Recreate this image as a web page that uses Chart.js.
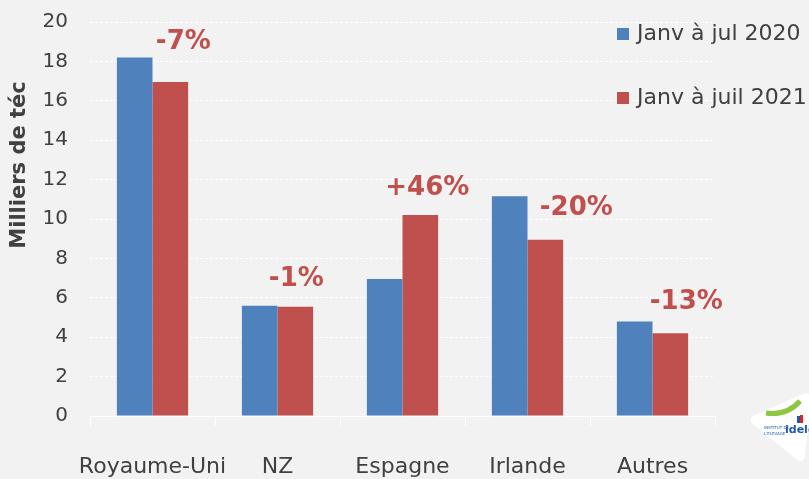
<!DOCTYPE html>
<html>
<head>
<meta charset="utf-8">
<script src="https://cdn.jsdelivr.net/npm/chart.js@4/dist/chart.umd.min.js"></script>
<style>
html,body{margin:0;padding:0;background:#F2F2F2;}
#wrap{width:809px;height:479px;position:relative;}
</style>
</head>
<body>
<div id="wrap"><canvas id="c"></canvas></div>
<script>
const categories = ["Royaume-Uni", "NZ", "Espagne", "Irlande", "Autres"];
const series2020 = [18.2, 5.6, 6.95, 11.15, 4.8];
const series2021 = [16.95, 5.55, 10.2, 8.95, 4.2];
const changeLabels = ["-7%", "-1%", "+46%", "-20%", "-13%"];
const seriesNames = ["Janv à jul 2020", "Janv à juil 2021"];
const yTicks = [0, 2, 4, 6, 8, 10, 12, 14, 16, 18, 20];
const yTitle = "Milliers de téc";

const BLUE = "#4F81BD", RED = "#C0504D", TXT = "#404040";
const FONT = "'DejaVu Sans', sans-serif";

// pixel offsets of the change labels relative to the top of the 2021 bar
const labelOffsets = [[13, -40], [1, -27], [7, -27], [31, -31], [16, -31]];

const overlay = {
  id: "overlay",
  afterDatasetsDraw(chart) {
    const ctx = chart.ctx;
    const meta = chart.getDatasetMeta(1);
    ctx.save();
    ctx.fillStyle = RED;
    ctx.font = "bold 26px " + FONT;
    ctx.textAlign = "center";
    ctx.textBaseline = "middle";
    meta.data.forEach((bar, i) => {
      const o = labelOffsets[i];
      ctx.fillText(changeLabels[i], bar.x + o[0], bar.y + o[1]);
    });
    // y title
    ctx.translate(20, 165);
    ctx.rotate(-Math.PI / 2);
    ctx.fillStyle = TXT;
    ctx.font = "bold 21px " + FONT;
    ctx.fillText(yTitle, 0, 0);
    ctx.restore();
    // legend
    ctx.save();
    ctx.font = "22px " + FONT;
    ctx.textBaseline = "middle";
    ctx.textAlign = "left";
    const legendY = [34, 98];
    chart.data.datasets.forEach((ds, i) => {
      ctx.fillStyle = ds.backgroundColor;
      ctx.fillRect(617, legendY[i] - 6, 12, 12);
      ctx.fillStyle = TXT;
      ctx.fillText(ds.label, 637, legendY[i]);
    });
    ctx.restore();
    // logo
    ctx.save();
    ctx.fillStyle = "#FFFFFF";
    ctx.lineJoin = "round";
    ctx.strokeStyle = "#FFFFFF";
    ctx.lineWidth = 10;
    ctx.beginPath();
    ctx.moveTo(756, 420);
    ctx.lineTo(806, 398);
    ctx.lineTo(800, 456);
    ctx.closePath();
    ctx.fill();
    ctx.stroke();
    ctx.strokeStyle = "#8DC63F";
    ctx.lineWidth = 5;
    ctx.beginPath();
    ctx.moveTo(766, 413);
    ctx.quadraticCurveTo(787, 416, 800, 401);
    ctx.stroke();
    ctx.fillStyle = "#E2231A";
    ctx.fillRect(800, 415, 3, 8);
    ctx.fillStyle = "#1F5AA6";
    ctx.fillRect(797, 416, 3, 7);
    ctx.font = "bold 11px " + FONT;
    ctx.fillText("idele", 785, 433);
    ctx.font = "4px " + FONT;
    ctx.fillText("INSTITUT DE", 764, 429);
    ctx.fillText("L'ELEVAGE", 764, 435);
    ctx.restore();
  }
};

new Chart(document.getElementById("c"), {
  type: "bar",
  data: {
    labels: categories,
    datasets: [
      { label: seriesNames[0], data: series2020, backgroundColor: BLUE, borderWidth: 0 },
      { label: seriesNames[1], data: series2021, backgroundColor: RED, borderWidth: 0 }
    ]
  },
  options: {
    responsive: true,
    maintainAspectRatio: false,
    animation: false,
    layout: { padding: { top: 22, right: 94, bottom: 0, left: 0 } },
    plugins: { legend: { display: false }, tooltip: { enabled: false } },
    datasets: { bar: { categoryPercentage: 0.57, barPercentage: 1.0 } },
    scales: {
      x: {
        afterFit(s) { s.height = 63; s.paddingLeft = 0; s.paddingRight = 0; },
        grid: { offset: true, drawOnChartArea: false, tickLength: 10, color: "#FFFFFF", lineWidth: 1 },
        border: { display: true, color: "#FFFFFF" },
        ticks: { color: TXT, font: { family: FONT, size: 22 }, padding: 28, maxRotation: 0, autoSkip: false }
      },
      y: {
        min: 0, max: 20,
        afterFit(s) { s.width = 90; s.paddingTop = 0; s.paddingBottom = 0; },
        afterBuildTicks(s) { s.ticks = yTicks.map(v => ({ value: v })); },
        grid: { color: "#FFFFFF", lineWidth: 1, drawTicks: false },
        border: { display: false, dash: [3, 2] },
        ticks: { color: TXT, font: { family: FONT, size: 20 }, padding: 22 }
      }
    }
  },
  plugins: [overlay]
});
</script>
</body>
</html>
